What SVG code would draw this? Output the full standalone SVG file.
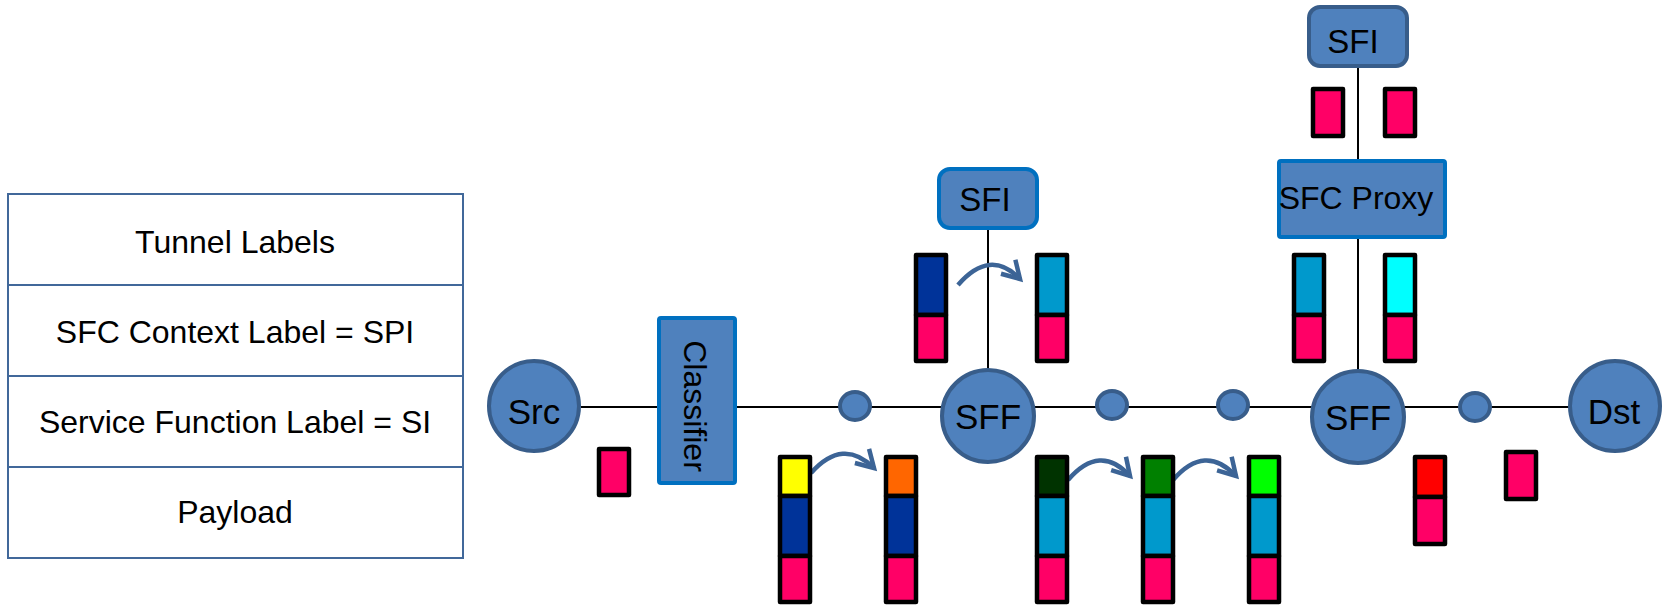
<svg xmlns="http://www.w3.org/2000/svg" width="1662" height="607" viewBox="0 0 1662 607">
<style>
text{font-family:"Liberation Sans",Arial,sans-serif;fill:#000}
.t32{font-size:32px;text-anchor:middle}
.t33{font-size:33px;text-anchor:middle}
.t35{font-size:35px;text-anchor:middle}
.node{fill:#4f81bd;stroke:#385d8a;stroke-width:4}
.box{fill:#4f81bd;stroke:#0070c0;stroke-width:4}
.tbl{fill:#fff;stroke:#41689a;stroke-width:2}
.ln{stroke:#000;stroke-width:2;fill:none}
.seg{stroke:#000;stroke-width:4.5;stroke-linejoin:round}
.pk{fill:#ff0066}.db{fill:#003399}.lb{fill:#0099cc}.cy{fill:#00ffff}.ye{fill:#ffff00}.or{fill:#ff6600}.dg{fill:#003300}.gr{fill:#008000}.li{fill:#00ff00}.rd{fill:#ff0000}
.arr{fill:none;stroke:#3c6496;stroke-width:4.5;marker-end:url(#ah)}
</style>
<defs>
<marker id="ah" markerUnits="userSpaceOnUse" viewBox="0 0 24 24" markerWidth="24" markerHeight="24" refX="20" refY="12" orient="auto" overflow="visible">
<path d="M3,2 L20,12 L3,22" fill="none" stroke="#3c6496" stroke-width="4.5" stroke-linejoin="miter"/>
</marker>
</defs>

<g id="legend">
<rect class="tbl" x="8" y="194" width="455" height="364"/>
<line class="tbl" x1="8" y1="285" x2="463" y2="285"/>
<line class="tbl" x1="8" y1="376" x2="463" y2="376"/>
<line class="tbl" x1="8" y1="467" x2="463" y2="467"/>
<text class="t32" x="235" y="253">Tunnel Labels</text>
<text class="t32" x="235" y="343">SFC Context Label = SPI</text>
<text class="t32" x="235" y="433">Service Function Label = SI</text>
<text class="t32" x="235" y="523">Payload</text>
</g>

<g id="connectors">
<line class="ln" x1="581" y1="407" x2="1570" y2="407"/>
<line class="ln" x1="988" y1="230" x2="988" y2="370"/>
<line class="ln" x1="1358" y1="68" x2="1358" y2="372"/>
<path class="arr" d="M958,285 Q990,248 1020,279"/>
<path class="arr" d="M811,473 Q843,437 874,468"/>
<path class="arr" d="M1068,480 Q1100,443 1130,476"/>
<path class="arr" d="M1173,480 Q1205,443 1236,476"/>
</g>

<g id="src"><circle class="node" cx="534" cy="406" r="45"/><text class="t35" x="534" y="424">Src</text></g>
<g id="classifier"><rect class="box" x="659" y="318" width="76" height="165" rx="2"/><text class="t32" transform="translate(684,406) rotate(90)">Classifier</text></g>
<g id="hop1"><ellipse class="node" cx="855" cy="406" rx="15" ry="14"/></g>
<g id="sff1"><circle class="node" cx="988" cy="416" r="46"/><text class="t35" x="988" y="429">SFF</text></g>
<g id="sfi1"><rect class="box" x="939" y="169" width="98" height="59" rx="11"/><text class="t33" x="985" y="211">SFI</text></g>
<g id="hop2"><ellipse class="node" cx="1112" cy="405" rx="15" ry="14"/></g>
<g id="hop3"><ellipse class="node" cx="1233" cy="405" rx="15" ry="14"/></g>
<g id="sff2"><circle class="node" cx="1358" cy="417" r="46"/><text class="t35" x="1358" y="430">SFF</text></g>
<g id="proxy"><rect class="box" x="1279" y="161" width="166" height="76" rx="2"/><text class="t32" x="1356" y="209">SFC Proxy</text></g>
<g id="sfi2"><rect class="node" x="1309" y="7" width="98" height="59" rx="11"/><text class="t33" x="1353" y="53">SFI</text></g>
<g id="hop4"><ellipse class="node" cx="1475" cy="407" rx="15" ry="14"/></g>
<g id="dst"><circle class="node" cx="1615" cy="406" r="45"/><text class="t35" x="1614" y="424">Dst</text></g>

<g id="packets">
<rect class="seg pk" x="599" y="449" width="30" height="46"/>

<rect class="seg ye" x="780" y="457" width="30" height="39"/>
<rect class="seg db" x="780" y="496" width="30" height="60"/>
<rect class="seg pk" x="780" y="556" width="30" height="46"/>

<rect class="seg or" x="886" y="457" width="30" height="39"/>
<rect class="seg db" x="886" y="496" width="30" height="60"/>
<rect class="seg pk" x="886" y="556" width="30" height="46"/>

<rect class="seg db" x="916" y="255" width="30" height="60"/>
<rect class="seg pk" x="916" y="315" width="30" height="46"/>

<rect class="seg lb" x="1037" y="255" width="30" height="60"/>
<rect class="seg pk" x="1037" y="315" width="30" height="46"/>

<rect class="seg dg" x="1037" y="457" width="30" height="39"/>
<rect class="seg lb" x="1037" y="496" width="30" height="60"/>
<rect class="seg pk" x="1037" y="556" width="30" height="46"/>

<rect class="seg gr" x="1143" y="457" width="30" height="39"/>
<rect class="seg lb" x="1143" y="496" width="30" height="60"/>
<rect class="seg pk" x="1143" y="556" width="30" height="46"/>

<rect class="seg li" x="1249" y="457" width="30" height="39"/>
<rect class="seg lb" x="1249" y="496" width="30" height="60"/>
<rect class="seg pk" x="1249" y="556" width="30" height="46"/>

<rect class="seg lb" x="1294" y="255" width="30" height="60"/>
<rect class="seg pk" x="1294" y="315" width="30" height="46"/>

<rect class="seg cy" x="1385" y="255" width="30" height="60"/>
<rect class="seg pk" x="1385" y="315" width="30" height="46"/>

<rect class="seg pk" x="1313" y="89" width="30" height="47"/>
<rect class="seg pk" x="1385" y="89" width="30" height="47"/>

<rect class="seg rd" x="1415" y="457" width="30" height="40"/>
<rect class="seg pk" x="1415" y="497" width="30" height="47"/>

<rect class="seg pk" x="1506" y="452" width="30" height="47"/>
</g>
</svg>
